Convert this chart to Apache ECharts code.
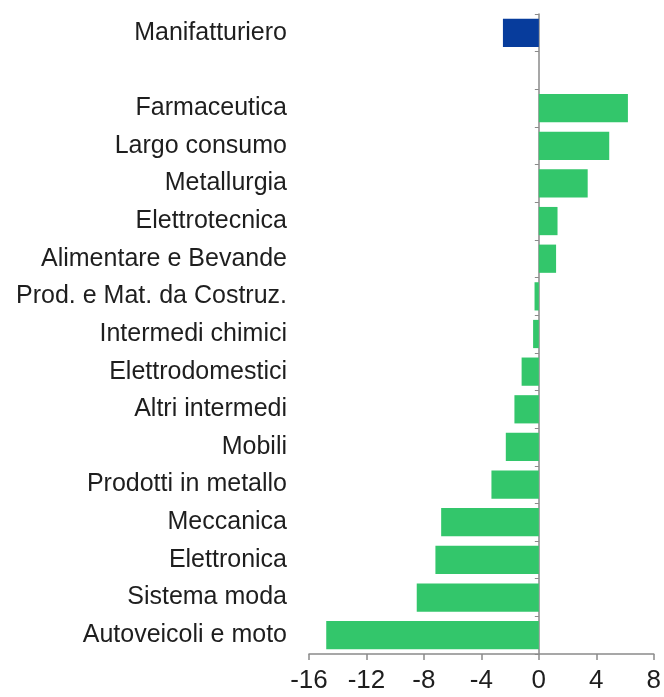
<!DOCTYPE html>
<html>
<head>
<meta charset="utf-8">
<script src="https://cdn.jsdelivr.net/npm/echarts@6/dist/echarts.min.js"></script>
<style>
  html, body { margin: 0; padding: 0; background: #ffffff; }
  #chart { width: 664px; height: 697px; }
</style>
</head>
<body>
<div id="chart"></div>
<script>
// Sectors, top to bottom; the empty entry leaves a gap under the total
const categories = [
  'Manifatturiero', '',
  'Farmaceutica', 'Largo consumo', 'Metallurgia', 'Elettrotecnica',
  'Alimentare e Bevande', 'Prod. e Mat. da Costruz.', 'Intermedi chimici',
  'Elettrodomestici', 'Altri intermedi', 'Mobili', 'Prodotti in metallo',
  'Meccanica', 'Elettronica', 'Sistema moda', 'Autoveicoli e moto'
];
const values = [
  -2.5, null,
  6.2, 4.9, 3.4, 1.3,
  1.2, -0.3, -0.4,
  -1.2, -1.7, -2.3, -3.3,
  -6.8, -7.2, -8.5, -14.8
];
const totalLabel = 'Manifatturiero';
const xTicks = { min: -16, max: 8, step: 4 };

const FONT = "'Liberation Sans', Arial, sans-serif";
const GREEN = '#33c66b';
const BLUE = '#073c9c';
const AXIS = '#8a8a8a';

const chart = echarts.init(document.getElementById('chart'), null, { renderer: 'canvas' });

chart.setOption({
  animation: false,
  backgroundColor: '#ffffff',
  grid: { left: 309, right: 9, top: 14, bottom: 43, containLabel: false },
  xAxis: {
    type: 'value',
    min: xTicks.min,
    max: xTicks.max,
    interval: xTicks.step,
    splitLine: { show: false },
    axisLine: { show: true, lineStyle: { color: AXIS, width: 1.5 } },
    axisTick: { show: true, length: 6, lineStyle: { color: AXIS, width: 1.5 } },
    axisLabel: { color: '#1e1e1e', fontFamily: FONT, fontSize: 26, margin: 14 }
  },
  yAxis: [
    {
      // sector names along the left edge of the plot
      type: 'category',
      data: categories,
      inverse: true,
      position: 'left',
      axisLine: { show: false, onZero: false },
      axisTick: { show: false },
      axisLabel: { color: '#1e1e1e', fontFamily: FONT, fontSize: 25, margin: 22 }
    },
    {
      // vertical line through zero with boundary ticks
      type: 'category',
      data: categories,
      inverse: true,
      position: 'left',
      axisLine: { show: true, onZero: true, lineStyle: { color: AXIS, width: 1.5 } },
      axisTick: { show: true, length: 4, lineStyle: { color: AXIS, width: 1 } },
      axisLabel: { show: false }
    }
  ],
  series: [
    {
      type: 'bar',
      yAxisIndex: 0,
      barCategoryGap: '25%',
      data: values.map((v, i) => ({
        value: v,
        itemStyle: { color: categories[i] === totalLabel ? BLUE : GREEN }
      })),
      z: 1
    }
  ]
});
</script>
</body>
</html>
